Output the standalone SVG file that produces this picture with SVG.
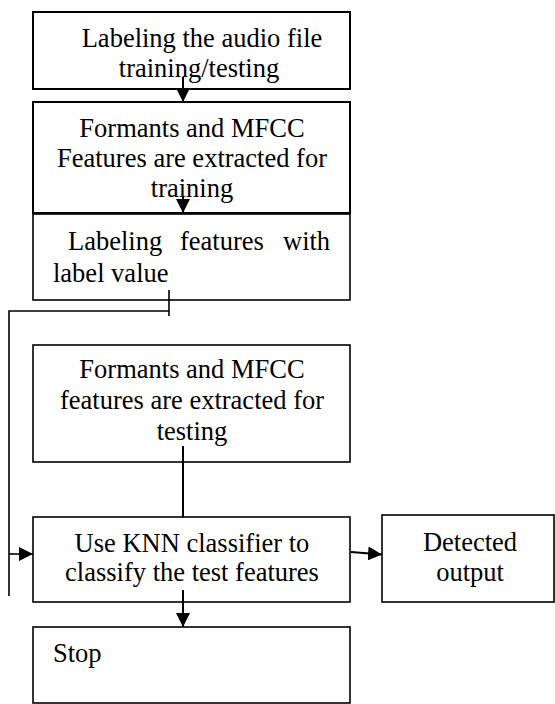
<svg xmlns="http://www.w3.org/2000/svg" width="555" height="704" viewBox="0 0 555 704">
<style>
.box{fill:#fff;stroke:#000;stroke-width:1.6}
.t{font-family:'Liberation Serif','DejaVu Serif',serif;font-size:26.5px;fill:#000}
.c{text-anchor:middle}
.ln{fill:none;stroke:#000;stroke-width:1.6}
</style>
<defs>
<marker id="ah2" viewBox="0 0 10 10" refX="10" refY="5" markerWidth="14" markerHeight="14" markerUnits="userSpaceOnUse" orient="auto">
<path d="M0,0 L10,5 L0,10 z" fill="#000"/>
</marker>
</defs>
<g id="n1">
<rect class="box" x="33" y="12" width="317" height="77" style="stroke-width:2"/>
<text class="t c" x="202" y="47">Labeling the audio file</text>
<text class="t c" x="199" y="77">training/testing</text>
</g>
<g id="n2">
<rect class="box" x="33" y="102" width="317" height="111" style="stroke-width:2"/>
<text class="t c" x="192" y="137">Formants and MFCC</text>
<text class="t c" x="192" y="167">Features are extracted for</text>
<text class="t c" x="192" y="197">training</text>
</g>
<g id="n3">
<rect class="box" x="33" y="214" width="317" height="86"/>
<text class="t" x="68" y="250">Labeling</text>
<text class="t" x="180" y="250">features</text>
<text class="t" x="283" y="250">with</text>
<text class="t" x="53" y="282">label value</text>
</g>
<g id="n4">
<rect class="box" x="33" y="345" width="317" height="117"/>
<text class="t c" x="192" y="378">Formants and MFCC</text>
<text class="t c" x="192" y="409">features are extracted for</text>
<text class="t c" x="192" y="440">testing</text>
</g>
<g id="n5">
<rect class="box" x="33" y="517" width="317" height="85"/>
<text class="t c" x="192" y="552">Use KNN classifier to</text>
<text class="t c" x="192" y="581">classify the test features</text>
</g>
<g id="n6">
<rect class="box" x="33" y="627" width="317" height="76"/>
<text class="t" x="53" y="662">Stop</text>
</g>
<g id="n7">
<rect class="box" x="382" y="515" width="172" height="87"/>
<text class="t c" x="470" y="551">Detected</text>
<text class="t c" x="470" y="581">output</text>
</g>
<g id="connectors">
<line class="ln" x1="183" y1="77" x2="183" y2="102" marker-end="url(#ah2)" style="stroke-width:2"/>
<line class="ln" x1="183" y1="197" x2="183" y2="213" marker-end="url(#ah2)" style="stroke-width:2"/>
<line class="ln" x1="169" y1="290" x2="169" y2="316"/>
<polyline class="ln" points="169,311 9,311 9,596"/>
<line class="ln" x1="9" y1="554" x2="33" y2="554" marker-end="url(#ah2)"/>
<line class="ln" x1="183" y1="446" x2="183" y2="517" style="stroke-width:2"/>
<line class="ln" x1="183" y1="590" x2="183" y2="627" marker-end="url(#ah2)" style="stroke-width:2"/>
<line class="ln" x1="351" y1="552" x2="382" y2="554.5" marker-end="url(#ah2)" style="stroke-width:2"/>
</g>
</svg>
